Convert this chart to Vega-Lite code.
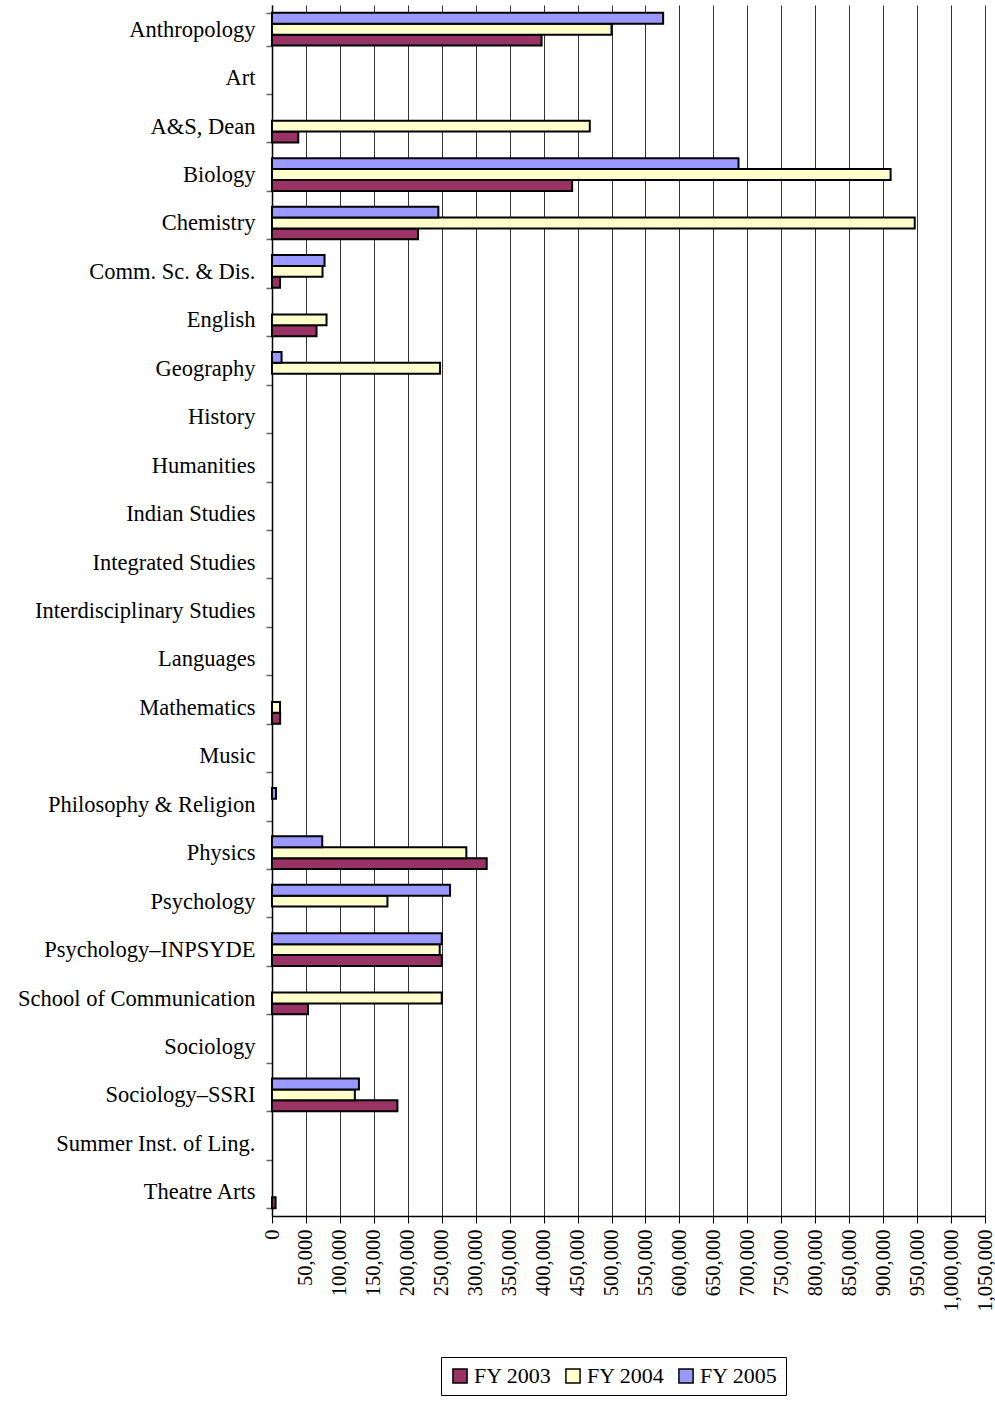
{
  "$schema": "https://vega.github.io/schema/vega-lite/v6.json",
  "width": 713,
  "height": 1211,
  "autosize": {"type": "none"},
  "padding": {"left": 272, "top": 5, "right": 10, "bottom": 185},
  "background": "white",
  "data": {
    "values": [
      {"dept": "Anthropology", "year": "FY 2003", "amount": 397000},
      {"dept": "Anthropology", "year": "FY 2004", "amount": 500000},
      {"dept": "Anthropology", "year": "FY 2005", "amount": 576000},
      {"dept": "A&S, Dean", "year": "FY 2003", "amount": 38700},
      {"dept": "A&S, Dean", "year": "FY 2004", "amount": 468000},
      {"dept": "Biology", "year": "FY 2003", "amount": 442000},
      {"dept": "Biology", "year": "FY 2004", "amount": 911000},
      {"dept": "Biology", "year": "FY 2005", "amount": 687000},
      {"dept": "Chemistry", "year": "FY 2003", "amount": 215000},
      {"dept": "Chemistry", "year": "FY 2004", "amount": 946500},
      {"dept": "Chemistry", "year": "FY 2005", "amount": 245000},
      {"dept": "Comm. Sc. & Dis.", "year": "FY 2003", "amount": 11800},
      {"dept": "Comm. Sc. & Dis.", "year": "FY 2004", "amount": 74400},
      {"dept": "Comm. Sc. & Dis.", "year": "FY 2005", "amount": 77400},
      {"dept": "English", "year": "FY 2003", "amount": 65600},
      {"dept": "English", "year": "FY 2004", "amount": 80300},
      {"dept": "Geography", "year": "FY 2004", "amount": 247500},
      {"dept": "Geography", "year": "FY 2005", "amount": 14100},
      {"dept": "Mathematics", "year": "FY 2003", "amount": 12000},
      {"dept": "Mathematics", "year": "FY 2004", "amount": 11800},
      {"dept": "Philosophy & Religion", "year": "FY 2005", "amount": 5900},
      {"dept": "Physics", "year": "FY 2003", "amount": 316200},
      {"dept": "Physics", "year": "FY 2004", "amount": 286200},
      {"dept": "Physics", "year": "FY 2005", "amount": 74000},
      {"dept": "Psychology", "year": "FY 2004", "amount": 170000},
      {"dept": "Psychology", "year": "FY 2005", "amount": 262200},
      {"dept": "Psychology–INPSYDE", "year": "FY 2003", "amount": 250000},
      {"dept": "Psychology–INPSYDE", "year": "FY 2004", "amount": 247000},
      {"dept": "Psychology–INPSYDE", "year": "FY 2005", "amount": 250000},
      {"dept": "School of Communication", "year": "FY 2003", "amount": 53000},
      {"dept": "School of Communication", "year": "FY 2004", "amount": 250000},
      {"dept": "Sociology–SSRI", "year": "FY 2003", "amount": 184700},
      {"dept": "Sociology–SSRI", "year": "FY 2004", "amount": 122000},
      {"dept": "Sociology–SSRI", "year": "FY 2005", "amount": 128000},
      {"dept": "Theatre Arts", "year": "FY 2003", "amount": 5300}
    ]
  },
  "mark": {"type": "bar", "stroke": "black", "strokeWidth": 2, "cornerRadius": 0},
  "encoding": {
    "y": {
      "field": "dept",
      "type": "nominal",
      "scale": {
        "domain": ["Anthropology", "Art", "A&S, Dean", "Biology", "Chemistry", "Comm. Sc. & Dis.", "English", "Geography", "History", "Humanities", "Indian Studies", "Integrated Studies", "Interdisciplinary Studies", "Languages", "Mathematics", "Music", "Philosophy & Religion", "Physics", "Psychology", "Psychology–INPSYDE", "School of Communication", "Sociology", "Sociology–SSRI", "Summer Inst. of Ling.", "Theatre Arts"],
        "paddingInner": 0.325,
        "paddingOuter": 0.1625
      },
      "axis": {
        "title": null,
        "tickBand": "extent",
        "tickSize": 6,
        "tickColor": "#666666",
        "tickWidth": 1.5,
        "domainColor": "black",
        "domainWidth": 1.5,
        "labelFont": "Liberation Serif",
        "labelFontSize": 22.5,
        "labelColor": "black",
        "labelPadding": 11,
        "labelLimit": 0,
        "grid": false
      }
    },
    "yOffset": {
      "field": "year",
      "type": "nominal",
      "sort": ["FY 2005", "FY 2004", "FY 2003"],
      "scale": {"paddingInner": 0, "paddingOuter": 0}
    },
    "x": {
      "field": "amount",
      "type": "quantitative",
      "scale": {"domain": [0, 1050000], "nice": false},
      "axis": {
        "title": null,
        "values": [0, 50000, 100000, 150000, 200000, 250000, 300000, 350000, 400000, 450000, 500000, 550000, 600000, 650000, 700000, 750000, 800000, 850000, 900000, 950000, 1000000, 1050000],
        "format": ",d",
        "labelAngle": -90,
        "labelFont": "Liberation Serif",
        "labelFontSize": 20.5,
        "labelColor": "black",
        "labelPadding": 6,
        "labelOverlap": false,
        "labelFlush": false,
        "tickSize": 7,
        "tickColor": "black",
        "domainColor": "black",
        "domainWidth": 1.5,
        "grid": true,
        "gridColor": "#333333",
        "gridWidth": 1
      }
    },
    "color": {
      "field": "year",
      "type": "nominal",
      "scale": {"domain": ["FY 2003", "FY 2004", "FY 2005"], "range": ["#993366", "#FFFFCC", "#9999FF"]},
      "legend": {
        "title": null,
        "orient": "none",
        "legendX": 169,
        "legendY": 1352,
        "direction": "horizontal",
        "symbolType": "square",
        "symbolSize": 200,
        "symbolStrokeColor": "black",
        "symbolStrokeWidth": 1.5,
        "symbolOpacity": 1,
        "labelFont": "Liberation Serif",
        "labelFontSize": 22,
        "labelColor": "black",
        "labelOffset": 3,
        "columnPadding": 10,
        "padding": 8,
        "strokeColor": "black",
        "fillColor": "white"
      }
    }
  },
  "config": {
    "view": {"stroke": null}
  }
}
